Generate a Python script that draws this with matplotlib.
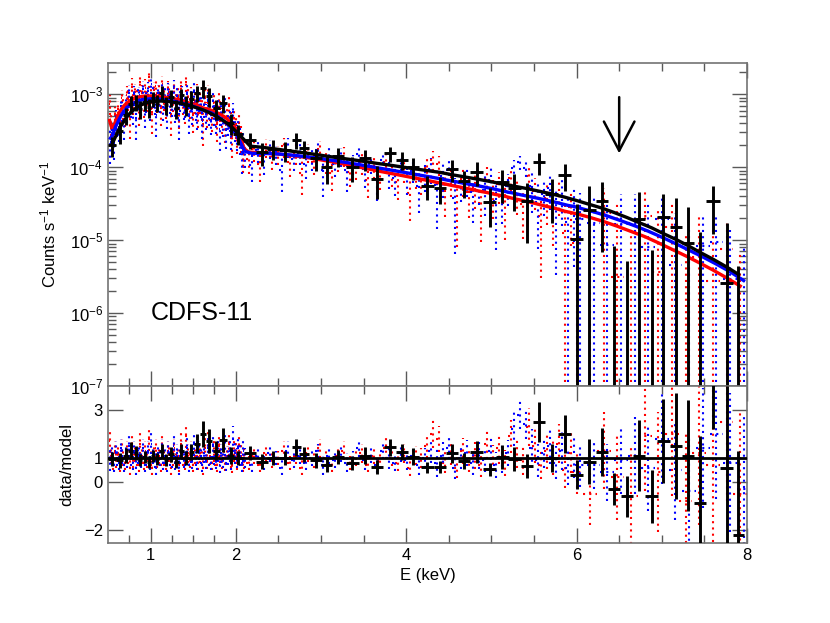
import numpy as np
import matplotlib
matplotlib.use("Agg")
import matplotlib.pyplot as plt
from matplotlib.ticker import FixedLocator, LogLocator, NullFormatter

plt.rcParams["font.family"] = ["Liberation Sans", "DejaVu Sans"]
plt.rcParams["mathtext.fontset"] = "custom"
plt.rcParams["mathtext.rm"] = "Liberation Sans"
plt.rcParams["mathtext.it"] = "Liberation Sans:italic"

# ---- black spectrum (binned crosses) ----
blk_e = [0.55, 0.64, 0.71, 0.77, 0.83, 0.88, 0.93, 0.98, 1.03, 1.08, 1.13, 1.18,
         1.24, 1.30, 1.36, 1.42, 1.48, 1.55, 1.62, 1.69, 1.77, 1.85, 1.94, 2.03,
         2.17, 2.31, 2.44, 2.58, 2.71, 2.80, 2.94, 3.07, 3.20, 3.37,
         3.52, 3.66, 3.81, 3.95, 4.08, 4.25, 4.40, 4.54, 4.68, 4.83,
         4.98, 5.13, 5.27, 5.42, 5.56, 5.71, 5.86, 6.00, 6.15, 6.30,
         6.44, 6.59, 6.73, 6.88, 7.02, 7.17, 7.31, 7.45, 7.60, 7.76, 7.90]
blk_model = [2.1e-4, 3.5e-4, 4.7e-4, 5.7e-4, 6.5e-4, 7.1e-4, 7.5e-4, 7.8e-4, 8.0e-4, 8.1e-4, 8.1e-4, 8.0e-4,
             7.9e-4, 7.7e-4, 7.5e-4, 7.2e-4, 6.9e-4, 6.5e-4, 6.1e-4, 5.6e-4, 5.0e-4, 4.4e-4, 3.7e-4, 2.9e-4,
             1.95e-4, 1.88e-4, 1.8e-4, 1.71e-4, 1.63e-4, 1.58e-4, 1.5e-4, 1.42e-4, 1.35e-4, 1.27e-4,
             1.2e-4, 1.13e-4, 1.07e-4, 1.01e-4, 9.6e-5, 9.0e-5, 8.5e-5, 7.9e-5, 7.4e-5, 6.9e-5,
             6.4e-5, 5.9e-5, 5.5e-5, 5.1e-5, 4.7e-5, 4.3e-5, 3.9e-5, 3.5e-5, 3.1e-5, 2.75e-5,
             2.4e-5, 2.05e-5, 1.75e-5, 1.48e-5, 1.23e-5, 1.02e-5, 8.4e-6, 6.8e-6, 5.5e-6, 4.3e-6, 3.4e-6]
blk_ratio = [0.95, 0.9, 1.1, 1.3, 1.2, 0.9, 1.05, 0.85, 1.1, 0.95, 1.3, 0.9,
             1.15, 0.85, 1.3, 1.0, 1.25, 1.6, 2.0, 1.7, 1.3, 1.75, 1.1, 1.0,
             1.2, 0.85, 1.0, 1.0, 1.45, 1.15, 0.9, 0.72, 1.05, 0.8,
             1.1, 0.62, 1.45, 1.25, 1.05, 0.62, 0.62, 1.2, 0.87, 1.25,
             0.52, 1.05, 0.95, 0.68, 2.5, 1.0, 2.0, 0.3, 0.85, 1.25,
             -0.3, -0.6, 1.1, -0.6, 1.7, 1.5, 1.1, -0.9, 6.2, 0.6, -2.2]
blk_err = [0.3, 0.3, 0.3, 0.35, 0.3, 0.25, 0.25, 0.25, 0.25, 0.25, 0.3, 0.25,
           0.3, 0.25, 0.3, 0.3, 0.35, 0.4, 0.55, 0.5, 0.4, 0.5, 0.35, 0.3,
           0.3, 0.3, 0.3, 0.3, 0.35, 0.3, 0.3, 0.3, 0.3, 0.3,
           0.35, 0.3, 0.35, 0.35, 0.35, 0.23, 0.25, 0.4, 0.35, 0.45,
           0.28, 0.5, 0.5, 0.5, 0.85, 0.6, 0.8, 0.6, 0.95, 1.0,
           0.65, 0.85, 1.5, 1.1, 1.75, 2.2, 2.3, 2.8, 4.0, 3.4, 3.5]

# ---- red spectrum (dotted) ----
red_e = [0.52, 0.54, 0.56, 0.58, 0.60, 0.62, 0.64, 0.66, 0.68, 0.70,
         0.72, 0.74, 0.76, 0.78, 0.80, 0.82, 0.84, 0.86, 0.88, 0.90,
         0.92, 0.94, 0.96, 0.98, 1.00, 1.02, 1.04, 1.06, 1.08, 1.10,
         1.12, 1.14, 1.16, 1.18, 1.20, 1.22, 1.24, 1.26, 1.28, 1.30,
         1.32, 1.34, 1.36, 1.38, 1.40, 1.42, 1.44, 1.46, 1.48, 1.50,
         1.52, 1.54, 1.56, 1.58, 1.60, 1.62, 1.64, 1.66, 1.68, 1.70,
         1.72, 1.74, 1.76, 1.78, 1.80, 1.82, 1.84, 1.86, 1.88, 1.90,
         1.92, 1.94, 1.96, 1.98, 2.00, 2.02, 2.04, 2.06, 2.08, 2.10,
         2.15, 2.22, 2.29, 2.36, 2.43, 2.50, 2.57, 2.64, 2.71, 2.78,
         2.85, 2.92, 2.99, 3.06, 3.13, 3.20, 3.27, 3.34, 3.41, 3.48,
         3.55, 3.62, 3.69, 3.76, 3.83, 3.90, 3.97, 4.04, 4.11, 4.18,
         4.25, 4.32, 4.39, 4.46, 4.53, 4.60, 4.67, 4.74, 4.81, 4.88,
         4.95, 5.02, 5.09, 5.16, 5.23, 5.30, 5.37, 5.44, 5.51, 5.58,
         5.65, 5.72, 5.79, 5.86, 5.93, 6.00,
         6.16, 6.32, 6.48, 6.64, 6.80, 6.96, 7.12, 7.28, 7.44, 7.60, 7.76, 7.92]
red_model = [4.4e-4, 3.6e-4, 3.5e-4, 4.0e-4, 4.6e-4, 5.2e-4, 5.8e-4, 6.3e-4, 6.8e-4, 7.2e-4,
             7.6e-4, 7.9e-4, 8.2e-4, 8.5e-4, 8.7e-4, 8.9e-4, 9.1e-4, 9.2e-4, 9.3e-4, 9.4e-4,
             9.45e-4, 9.5e-4, 9.5e-4, 9.5e-4, 9.5e-4, 9.5e-4, 9.45e-4, 9.4e-4, 9.35e-4, 9.3e-4,
             9.25e-4, 9.2e-4, 9.15e-4, 9.1e-4, 9.05e-4, 9.0e-4, 8.9e-4, 8.8e-4, 8.7e-4, 8.6e-4,
             8.5e-4, 8.4e-4, 8.25e-4, 8.1e-4, 7.95e-4, 7.8e-4, 7.7e-4, 7.6e-4, 7.5e-4, 7.4e-4,
             7.25e-4, 7.1e-4, 6.95e-4, 6.8e-4, 6.65e-4, 6.5e-4, 6.4e-4, 6.3e-4, 6.2e-4, 6.1e-4,
             6.0e-4, 5.9e-4, 5.75e-4, 5.6e-4, 5.45e-4, 5.3e-4, 5.15e-4, 5.0e-4, 4.8e-4, 4.6e-4,
             4.35e-4, 4.1e-4, 3.85e-4, 3.6e-4, 3.3e-4, 3.0e-4, 2.7e-4, 2.4e-4, 2.1e-4, 1.8e-4,
             1.62e-4, 1.6e-4, 1.58e-4, 1.56e-4, 1.54e-4, 1.52e-4, 1.49e-4, 1.46e-4, 1.43e-4, 1.39e-4,
             1.35e-4, 1.31e-4, 1.27e-4, 1.23e-4, 1.19e-4, 1.15e-4, 1.11e-4, 1.07e-4, 1.03e-4, 9.9e-5,
             9.5e-5, 9.2e-5, 8.8e-5, 8.5e-5, 8.2e-5, 7.9e-5, 7.6e-5, 7.35e-5, 7.1e-5, 6.85e-5,
             6.6e-5, 6.35e-5, 6.1e-5, 5.9e-5, 5.65e-5, 5.45e-5, 5.25e-5, 5.05e-5, 4.85e-5, 4.65e-5,
             4.5e-5, 4.3e-5, 4.15e-5, 4.0e-5, 3.8e-5, 3.65e-5, 3.5e-5, 3.35e-5, 3.2e-5, 3.05e-5,
             2.9e-5, 2.8e-5, 2.65e-5, 2.5e-5, 2.4e-5, 2.3e-5,
             2.05e-5, 1.8e-5, 1.55e-5, 1.32e-5, 1.12e-5, 9.2e-6, 7.5e-6, 6.1e-6, 4.9e-6, 3.9e-6, 3.05e-6, 2.35e-6]
red_ratio = [1.7, 1.1, 0.8, 1.3, 0.9, 1.2, 0.7, 1.4, 1.0, 0.8,
             1.3, 1.1, 0.6, 1.5, 0.9, 1.2, 1.0, 0.7, 1.6, 1.1,
             0.8, 1.3, 0.9, 1.8, 1.0, 0.6, 1.2, 1.4, 0.9, 1.1,
             0.7, 1.5, 1.0, 0.8, 1.3, 1.2, 0.6, 1.0, 1.4, 0.9,
             1.1, 0.7, 1.6, 1.0, 0.8, 1.9, 1.2, 0.9, 1.3, 0.7,
             1.1, 1.5, 0.8, 1.2, 1.0, 0.6, 1.4, 0.9, 1.7, 1.1,
             0.8, 1.3, 1.0, 0.7, 1.5, 1.2, 0.9, 1.4, 0.8, 1.1,
             1.6, 1.0, 0.7, 1.3, 1.2, 0.9, 1.5, 1.1, 0.8, 1.0,
             0.8, 1.1, 0.7, 1.2, 0.9, 1.0, 1.3, 0.8, 1.1, 0.6,
             1.2, 0.9, 1.4, 1.0, 0.7, 1.1, 1.3, 0.8, 1.0, 1.2,
             0.7, 1.1, 0.9, 1.4, 1.0, 0.8, 1.2, 0.6, 1.1, 1.0,
             1.5, 2.0, 1.8, 0.8, 1.2, 0.6, 1.3, 0.9, 1.1, 0.7,
             1.6, 1.0, 1.4, 0.8, 1.9, 1.2, 0.9, 2.3, 1.5, 0.7,
             1.3, 1.0, 1.6, 0.5, 1.2, 0.4,
             -0.5, 1.3, 0.2, -0.6, 1.9, 0.4, 2.0, -0.8, 1.2, 0.7, 2.5, -0.5]
red_err = [0.5, 0.35, 0.3, 0.4, 0.3, 0.35, 0.3, 0.4, 0.35, 0.3,
           0.4, 0.35, 0.3, 0.45, 0.3, 0.35, 0.35, 0.3, 0.45, 0.35,
           0.3, 0.4, 0.3, 0.5, 0.35, 0.3, 0.35, 0.4, 0.3, 0.35,
           0.3, 0.45, 0.35, 0.3, 0.4, 0.35, 0.3, 0.35, 0.4, 0.3,
           0.35, 0.3, 0.45, 0.35, 0.3, 0.5, 0.4, 0.3, 0.4, 0.3,
           0.35, 0.45, 0.3, 0.4, 0.35, 0.3, 0.45, 0.35, 0.5, 0.4,
           0.3, 0.45, 0.35, 0.3, 0.5, 0.4, 0.35, 0.45, 0.35, 0.4,
           0.5, 0.4, 0.35, 0.45, 0.45, 0.4, 0.5, 0.45, 0.4, 0.45,
           0.3, 0.35, 0.3, 0.35, 0.3, 0.3, 0.4, 0.3, 0.35, 0.3,
           0.35, 0.3, 0.4, 0.35, 0.3, 0.35, 0.4, 0.3, 0.35, 0.4,
           0.3, 0.35, 0.35, 0.45, 0.35, 0.35, 0.4, 0.35, 0.4, 0.4,
           0.5, 0.6, 0.55, 0.45, 0.5, 0.45, 0.55, 0.5, 0.55, 0.5,
           0.65, 0.55, 0.65, 0.55, 0.7, 0.6, 0.6, 0.8, 0.7, 0.6,
           0.75, 0.7, 0.8, 0.75, 0.85, 0.9,
           1.3, 1.6, 1.8, 2.0, 2.3, 2.5, 2.6, 2.8, 3.0, 3.2, 3.3, 3.5]

# ---- blue spectrum (dotted) ----
blu_e = [0.53, 0.55, 0.57, 0.59, 0.61, 0.63, 0.65, 0.67, 0.69, 0.71,
         0.73, 0.75, 0.77, 0.79, 0.81, 0.83, 0.85, 0.87, 0.89, 0.91,
         0.93, 0.95, 0.97, 0.99, 1.01, 1.03, 1.05, 1.07, 1.09, 1.11,
         1.13, 1.15, 1.17, 1.19, 1.21, 1.23, 1.25, 1.27, 1.29, 1.31,
         1.33, 1.35, 1.37, 1.39, 1.41, 1.43, 1.45, 1.47, 1.49, 1.51,
         1.53, 1.55, 1.57, 1.59, 1.61, 1.63, 1.65, 1.67, 1.69, 1.71,
         1.73, 1.75, 1.77, 1.79, 1.81, 1.83, 1.85, 1.87, 1.89, 1.91,
         1.93, 1.95, 1.97, 1.99, 2.01, 2.03, 2.05, 2.07, 2.09, 2.11,
         2.19, 2.26, 2.33, 2.40, 2.47, 2.54, 2.61, 2.68, 2.75, 2.82,
         2.89, 2.96, 3.03, 3.10, 3.17, 3.24, 3.31, 3.38, 3.45, 3.52,
         3.59, 3.66, 3.73, 3.80, 3.87, 3.94, 4.01, 4.08, 4.15, 4.22,
         4.29, 4.36, 4.43, 4.50, 4.57, 4.64, 4.71, 4.78, 4.85, 4.92,
         4.99, 5.06, 5.13, 5.20, 5.27, 5.34, 5.41, 5.48, 5.55, 5.62,
         5.69, 5.76, 5.83, 5.90, 5.97, 6.04,
         6.20, 6.36, 6.52, 6.68, 6.84, 7.00, 7.16, 7.32, 7.48, 7.64, 7.80, 7.96]
blu_model = [2.5e-4, 2.7e-4, 3.1e-4, 3.6e-4, 4.0e-4, 4.5e-4, 5.0e-4, 5.5e-4, 5.9e-4, 6.3e-4,
             6.7e-4, 7.0e-4, 7.25e-4, 7.5e-4, 7.7e-4, 7.9e-4, 8.1e-4, 8.25e-4, 8.4e-4, 8.5e-4,
             8.55e-4, 8.6e-4, 8.65e-4, 8.7e-4, 8.7e-4, 8.7e-4, 8.7e-4, 8.7e-4, 8.65e-4, 8.6e-4,
             8.55e-4, 8.5e-4, 8.45e-4, 8.4e-4, 8.35e-4, 8.3e-4, 8.2e-4, 8.1e-4, 8.0e-4, 7.9e-4,
             7.8e-4, 7.7e-4, 7.6e-4, 7.5e-4, 7.4e-4, 7.3e-4, 7.2e-4, 7.1e-4, 6.95e-4, 6.8e-4,
             6.65e-4, 6.5e-4, 6.4e-4, 6.3e-4, 6.15e-4, 6.0e-4, 5.9e-4, 5.8e-4, 5.7e-4, 5.6e-4,
             5.45e-4, 5.3e-4, 5.15e-4, 5.0e-4, 4.8e-4, 4.6e-4, 4.4e-4, 4.2e-4, 4.0e-4, 3.8e-4,
             3.6e-4, 3.4e-4, 3.2e-4, 3.0e-4, 2.75e-4, 2.5e-4, 2.25e-4, 2.0e-4, 1.8e-4, 1.65e-4,
             1.55e-4, 1.55e-4, 1.55e-4, 1.54e-4, 1.53e-4, 1.51e-4, 1.49e-4, 1.46e-4, 1.43e-4, 1.4e-4,
             1.37e-4, 1.34e-4, 1.3e-4, 1.26e-4, 1.23e-4, 1.19e-4, 1.16e-4, 1.12e-4, 1.09e-4, 1.05e-4,
             1.02e-4, 9.85e-5, 9.55e-5, 9.25e-5, 8.95e-5, 8.65e-5, 8.4e-5, 8.1e-5, 7.85e-5, 7.6e-5,
             7.35e-5, 7.1e-5, 6.85e-5, 6.6e-5, 6.4e-5, 6.15e-5, 5.95e-5, 5.75e-5, 5.55e-5, 5.35e-5,
             5.15e-5, 4.95e-5, 4.75e-5, 4.55e-5, 4.4e-5, 4.2e-5, 4.05e-5, 3.9e-5, 3.75e-5, 3.6e-5,
             3.45e-5, 3.3e-5, 3.15e-5, 3.0e-5, 2.9e-5, 2.75e-5,
             2.45e-5, 2.15e-5, 1.85e-5, 1.58e-5, 1.33e-5, 1.1e-5, 9.0e-6, 7.3e-6, 5.9e-6, 4.7e-6, 3.7e-6, 2.8e-6]
blu_ratio = [0.9, 1.2, 0.7, 1.3, 1.0, 0.8, 1.4, 1.1, 0.7, 1.2,
             0.9, 1.5, 1.0, 0.8, 1.3, 0.6, 1.1, 1.2, 0.9, 1.4,
             0.7, 1.0, 1.3, 0.8, 1.6, 1.1, 0.9, 0.6, 1.2, 1.0,
             1.4, 0.8, 1.1, 0.7, 1.3, 1.0, 0.9, 1.5, 0.8, 1.2,
             0.6, 1.1, 1.3, 0.9, 1.0, 1.4, 0.7, 1.2, 0.9, 1.6,
             1.0, 0.8, 1.3, 1.1, 0.7, 1.2, 0.9, 1.4, 1.0, 0.8,
             1.5, 1.1, 0.9, 1.3, 0.7, 1.2, 1.0, 1.6, 0.8, 1.1,
             1.3, 0.9, 1.8, 1.2, 1.0, 1.4, 1.1, 0.8, 1.3, 1.0,
             0.7, 1.1, 0.8, 1.2, 1.0, 0.6, 1.3, 0.9, 1.1, 0.8,
             1.0, 1.3, 0.7, 1.1, 0.9, 1.2, 0.8, 1.0, 1.4, 0.9,
             1.1, 0.7, 1.3, 1.0, 0.8, 1.2, 0.9, 1.1, 0.7, 1.0,
             1.3, 0.8, 1.1, 1.4, 0.6, 1.0, 1.2, 0.8, 1.1, 0.9,
             1.3, 0.7, 1.0, 1.2, 2.2, 2.8, 2.4, 1.4, 0.9, 1.2,
             1.5, 0.8, 1.3, 0.6, 1.0, 0.7,
             0.7, 0.4, 0.9, 1.1, 0.6, 1.8, 0.5, -0.4, 1.4, 2.0, 0.8, -0.3]
blu_err = [0.45, 0.35, 0.3, 0.4, 0.35, 0.3, 0.4, 0.35, 0.3, 0.35,
           0.3, 0.45, 0.35, 0.3, 0.4, 0.3, 0.35, 0.35, 0.3, 0.4,
           0.3, 0.35, 0.4, 0.3, 0.45, 0.35, 0.3, 0.3, 0.35, 0.35,
           0.4, 0.3, 0.35, 0.3, 0.4, 0.35, 0.3, 0.45, 0.3, 0.4,
           0.3, 0.35, 0.4, 0.3, 0.35, 0.45, 0.3, 0.4, 0.35, 0.5,
           0.35, 0.3, 0.4, 0.35, 0.3, 0.4, 0.35, 0.45, 0.35, 0.3,
           0.5, 0.4, 0.35, 0.45, 0.35, 0.4, 0.4, 0.5, 0.35, 0.4,
           0.45, 0.4, 0.55, 0.45, 0.4, 0.5, 0.45, 0.4, 0.45, 0.4,
           0.3, 0.35, 0.3, 0.35, 0.3, 0.3, 0.4, 0.3, 0.35, 0.3,
           0.35, 0.3, 0.4, 0.35, 0.3, 0.35, 0.4, 0.3, 0.35, 0.4,
           0.3, 0.35, 0.35, 0.45, 0.35, 0.35, 0.4, 0.35, 0.4, 0.4,
           0.5, 0.6, 0.55, 0.45, 0.5, 0.45, 0.55, 0.5, 0.55, 0.5,
           0.65, 0.55, 0.65, 0.55, 0.7, 0.6, 0.6, 0.8, 0.7, 0.6,
           0.75, 0.7, 0.8, 0.75, 0.85, 0.9,
           1.0, 1.2, 1.4, 1.6, 1.8, 1.9, 2.1, 2.3, 2.5, 2.7, 2.9, 3.1]

line_tag = "CDFS-11"
arrow_e = 6.5


def draw_set(ax_top, ax_bot, e, model, ratio, err, color, dotted):
    e = np.array(e)
    model = np.array(model)
    ratio = np.array(ratio)
    err = np.array(err)
    hw = np.gradient(e) / 2.0
    ls = (0, (1, 2.0)) if dotted else "solid"
    lw = 1.5 if dotted else 2.1
    z = 2 if dotted else 4
    # upper panel: counts = ratio * model
    y = ratio * model
    hi = (ratio + err) * model
    lo = np.maximum((ratio - err) * model, 1e-9)
    ok = hi > 0
    ax_top.vlines(e[ok], lo[ok], hi[ok], colors=color, linestyles=ls, lw=lw, zorder=z)
    pos = y > 0
    ax_top.hlines(y[pos], e[pos] - hw[pos], e[pos] + hw[pos], colors=color, linestyles=ls, lw=lw, zorder=z)
    # lower panel: data / model
    ax_bot.vlines(e, ratio - err, ratio + err, colors=color, linestyles=ls, lw=lw, zorder=z)
    ax_bot.hlines(ratio, e - hw, e + hw, colors=color, linestyles=ls, lw=lw, zorder=z)


fig = plt.figure(figsize=(8.3, 6.23), dpi=100)
ax1 = fig.add_axes([0.130, 0.3804, 0.770, 0.5186])
ax2 = fig.add_axes([0.130, 0.1284, 0.770, 0.2520], sharex=ax1)

draw_set(ax1, ax2, red_e, red_model, red_ratio, red_err, "red", True)
draw_set(ax1, ax2, blu_e, blu_model, blu_ratio, blu_err, "blue", True)

ax1.plot(red_e, red_model, color="red", lw=2.4, zorder=3)
ax1.plot(blu_e, blu_model, color="blue", lw=2.4, zorder=3)
ax1.plot(blk_e, blk_model, color="black", lw=2.4, zorder=3)

draw_set(ax1, ax2, blk_e, blk_model, blk_ratio, blk_err, "black", False)

ax2.axhline(1.0, color="black", lw=2.0, zorder=3)

ax1.set_yscale("log")
ax1.set_xlim(0.5, 8.0)
ax1.set_ylim(1e-7, 2.7e-3)
ax2.set_ylim(-2.55, 4.0)

ax1.text(1.0, 1e-6, line_tag, fontsize=18, ha="left", va="center")
ax1.annotate("", xy=(arrow_e, 1.42e-4), xytext=(arrow_e, 1.0e-3),
             arrowprops=dict(arrowstyle="->, head_length=1.05, head_width=0.55",
                             lw=1.8, color="black", mutation_scale=20))

ax1.set_ylabel("Counts s$^{-1}$ keV$^{-1}$", fontsize=12)
ax2.set_ylabel("data/model", fontsize=12)
ax1.yaxis.set_label_coords(-0.078, 0.5)
ax2.yaxis.set_label_coords(-0.052, 0.5)
ax2.set_xlabel("E (keV)", fontsize=12, labelpad=4)

xmaj = [1, 2, 4, 6, 8]
xmin = [0.75, 1.25, 1.5, 1.75, 2.5, 3, 3.5, 4.5, 5, 5.5, 6.5, 7, 7.5]
for ax in (ax1, ax2):
    ax.xaxis.set_major_locator(FixedLocator(xmaj))
    ax.xaxis.set_minor_locator(FixedLocator(xmin))
    ax.tick_params(which="both", direction="in", top=True, right=True, colors="0.35",
                   labelcolor="black", labelsize=12)
    ax.tick_params(which="major", length=11, width=1)
    ax.tick_params(which="minor", length=6, width=1)
    for s in ax.spines.values():
        s.set_color("0.45")
        s.set_linewidth(1.2)

ax1.tick_params(axis="x", labelbottom=False)
ax1.yaxis.set_major_locator(LogLocator(base=10, numticks=10))
ax1.yaxis.set_minor_locator(LogLocator(base=10, subs=np.arange(2, 10), numticks=20))
ax1.yaxis.set_minor_formatter(NullFormatter())
ax2.yaxis.set_major_locator(FixedLocator([-2, 0, 1, 3]))
ax2.set_xticklabels(["1", "2", "4", "6", "8"])

fig.savefig("out.png", dpi=100)
